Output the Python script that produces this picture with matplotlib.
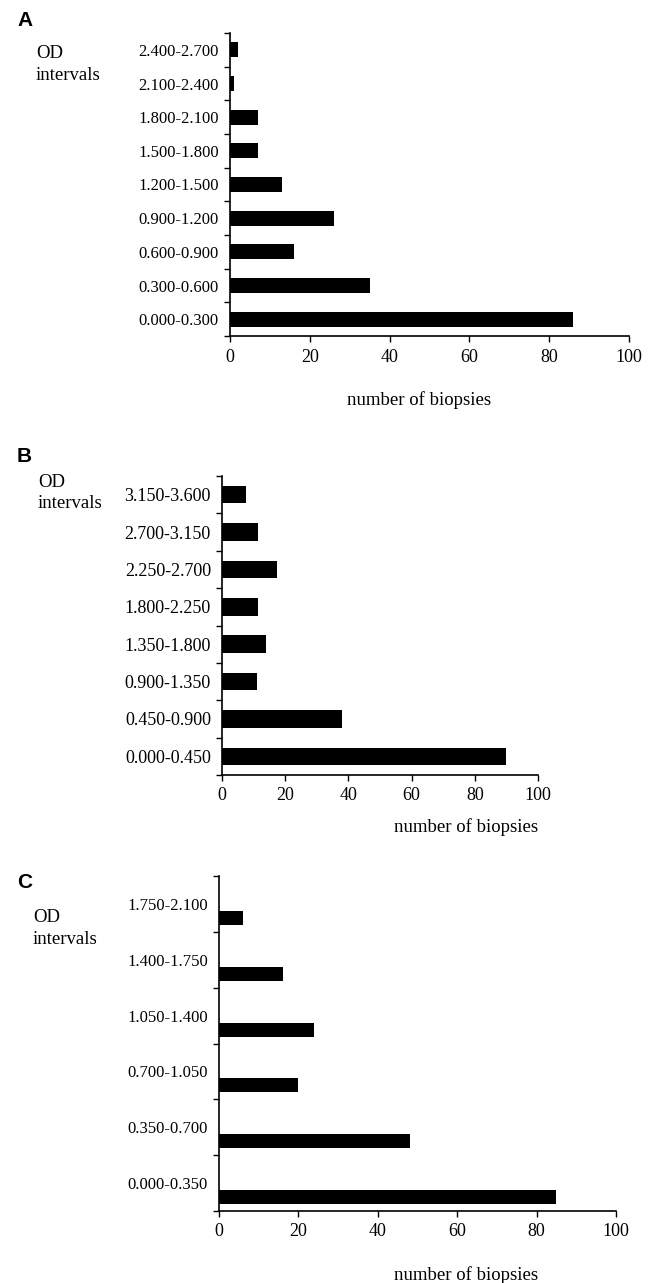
import matplotlib
matplotlib.use("Agg")
import matplotlib.pyplot as plt
import numpy as np

plt.rcParams['font.family'] = ['Liberation Serif', 'DejaVu Serif']

# panel A
labels_a = ["0.000-0.300", "0.300-0.600", "0.600-0.900", "0.900-1.200", "1.200-1.500",
            "1.500-1.800", "1.800-2.100", "2.100-2.400", "2.400-2.700"]
counts_a = [86, 35, 16, 26, 13, 7, 7, 1, 2]

# panel B
labels_b = ["0.000-0.450", "0.450-0.900", "0.900-1.350", "1.350-1.800",
            "1.800-2.250", "2.250-2.700", "2.700-3.150", "3.150-3.600"]
counts_b = [90, 38, 11, 14, 11.5, 17.5, 11.5, 7.5]

# panel C
labels_c = ["0.000-0.350", "0.350-0.700", "0.700-1.050", "1.050-1.400",
            "1.400-1.750", "1.750-2.100"]
counts_c = [85, 48, 20, 24, 16, 6]

xticks = [0, 20, 40, 60, 80, 100]

W, H = 655, 1283
fig = plt.figure(figsize=(W / 100, H / 100), dpi=100)


def px_axes(left, right, top, bottom):
    return fig.add_axes([left / W, 1 - bottom / H, (right - left) / W, (bottom - top) / H])


def draw_panel(ax, labels, counts, bar_h, offset, ysize, xsize):
    n = len(labels)
    pos = np.arange(n)
    ax.barh(pos + offset, counts, height=bar_h, color='black')
    ax.set_xlim(0, 100)
    ax.set_ylim(-0.5, n - 0.5)
    ax.set_yticks(pos)
    ax.set_yticklabels(labels, fontsize=ysize)
    ax.set_yticks(np.arange(n + 1) - 0.5, minor=True)
    ax.tick_params(axis='y', which='major', length=0, pad=8)
    ax.tick_params(axis='y', which='minor', length=4, width=1)
    ax.set_xticks(xticks)
    ax.tick_params(axis='x', labelsize=xsize, length=4, width=1, pad=5)
    for s in ['top', 'right']:
        ax.spines[s].set_visible(False)
    for s in ['left', 'bottom']:
        ax.spines[s].set_linewidth(1.2)


ax_a = px_axes(230, 629, 33, 336)
draw_panel(ax_a, labels_a, counts_a, 0.45, 0, 12, 13)
ax_b = px_axes(222, 538, 476, 775)
draw_panel(ax_b, labels_b, counts_b, 0.47, 0, 13, 13)
ax_c = px_axes(219, 616, 876, 1211)
draw_panel(ax_c, labels_c, counts_c, 0.25, -0.25, 12, 13)

# panel letters
for letter, y in [("A", 21), ("B", 457), ("C", 883)]:
    fig.text(17 / W, 1 - y / H, letter, fontsize=15, fontweight='bold',
             family='Liberation Sans', va='center', ha='left')

# OD intervals labels
for x, y1, y2 in [(36, 53, 76), (38, 482, 504), (33, 917, 940)]:
    fig.text(x / W, 1 - y1 / H, "OD", fontsize=13.5, va='center', ha='left')
    fig.text(x / W, 1 - y2 / H, "intervals", fontsize=13.5, va='center', ha='left')

# x labels
for x, y in [(419, 400), (466, 827), (466, 1275)]:
    fig.text(x / W, 1 - y / H, "number of biopsies", fontsize=13.5, va='center', ha='center')

fig.savefig("out.png", dpi=100)
